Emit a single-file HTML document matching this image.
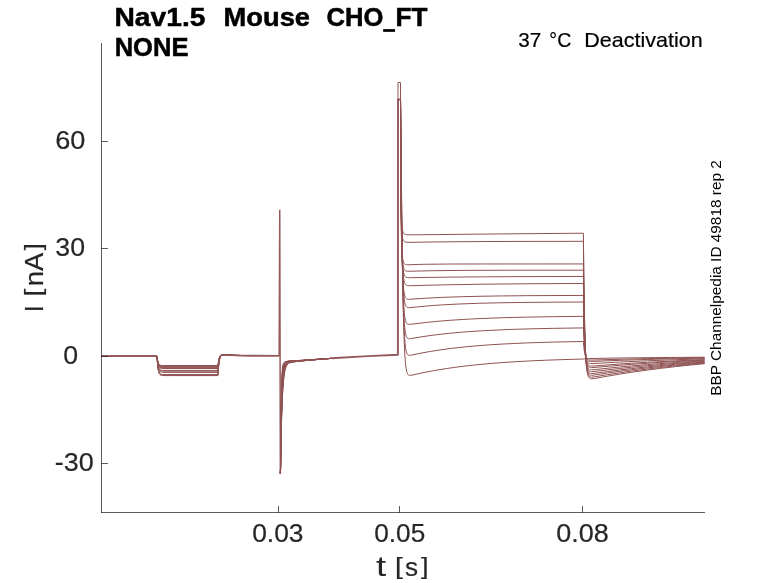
<!DOCTYPE html>
<html><head><meta charset="utf-8">
<style>
html,body{margin:0;padding:0;background:#fff;}
svg{display:block;will-change:transform;}
text{font-family:"Liberation Sans",sans-serif;}
</style></head>
<body>
<svg width="778" height="583" viewBox="0 0 778 583">
<rect width="778" height="583" fill="#fff"/>
<g fill="none" stroke="#955a5a" stroke-linejoin="round">
<path stroke-width="1.95" d="M101 356L157 356M232 354.97L240.5 355.43L249.5 355.69L260 355.83L279.15 355.89M332 358.26L340 357.7L368 356.11L397.9 354.7L398 99.5L400.5 99.5"/>
<path stroke-width="1.5" stroke-linejoin="miter" stroke-miterlimit="30" d="M279.15 355.89L279.75 209.8L280.35 473.2"/>
<g stroke-width="1.0" stroke="#8f5252" stroke-linejoin="miter" stroke-miterlimit="2">
<path d="M157 356L157.25 358.1L157.75 361.01L158 362.01L158.5 363.38L159 364.21L159.5 364.72L160.25 365.13L161 365.33L162.5 365.46L165 365.5L218 365.5L218.5 361.49L219 359L219.25 358.13L219.75 356.89L220.25 356.11L220.75 355.6L221.25 355.27L222 354.97L223 354.77L224 354.69L227 354.69L232 354.97M280.35 473.5L280.55 465.4L280.95 418.58L281.15 403.88L281.55 384.98L281.95 374.64L282.35 368.98L282.75 365.86L282.95 364.87L283.35 363.58L283.55 363.16L283.95 362.6L284.35 362.25L284.75 362.01L285.95 361.6L288.95 360.91L300.15 360.39L332 358.26M398 99.5L398 82.5L400.5 82.5L400.7 171.51L400.9 194.22L401.1 206.44L401.5 219.14L401.7 222.73L402.1 227.28L402.5 229.91L402.9 231.53L403.5 232.93L403.9 233.49L404.3 233.88L404.7 234.15L405.3 234.41L406.5 234.68L408.3 234.8L411.3 234.83L498.7 233.93L583.4 233.22L583.8 272.2L584.2 300.84L584.8 330.19L585.4 348.64L586 360.23L586.4 365.44L586.8 369.25L587.2 372.02L587.8 374.84L588.4 376.56L588.8 377.32L589.2 377.85L589.8 378.37L590.6 378.7L591.6 378.82L593 378.73L595.2 378.38L607.4 376.18L619.4 374.17L631.4 372.31L647.4 370.05L659.4 368.51L675.4 366.64L691.4 364.95L704.6 363.69"/>
<path d="M157 356L157.25 358.23L157.75 361.33L158 362.38L158.5 363.85L159 364.73L159.5 365.27L160.25 365.71L161 365.92L162.5 366.06L165 366.1L218 366.1L218.5 361.85L219 359.22L219.25 358.3L219.75 357L220.25 356.17L220.75 355.64L221.25 355.29L222 354.98L223 354.78L224 354.69L227 354.69L232 354.97M280.35 473.5L280.55 466.31L280.75 441.92L281.15 408.98L281.55 389.69L281.95 378.38L282.35 371.74L282.55 369.53L282.95 366.53L283.35 364.74L283.75 363.67L284.35 362.77L284.75 362.41L285.15 362.16L286.35 361.71L288.95 361.07L299.95 360.48L332 358.27M400.5 99.5L400.7 174.57L400.9 198.14L401.1 211.39L401.3 219.81L401.7 229.51L401.9 232.42L402.3 236.21L402.7 238.43L403.1 239.79L403.5 240.65L404.1 241.4L404.7 241.82L405.7 242.14L406.9 242.28L408.9 242.33L438.7 241.9L474.7 241.6L518.7 241.42L583.4 241.32L583.8 277.68L584.2 304.39L584.8 331.76L585.4 348.97L586 359.78L586.4 364.64L586.8 368.19L587.2 370.78L587.8 373.4L588.4 375.02L588.8 375.72L589.2 376.22L589.8 376.7L590.6 377.02L591.6 377.13L593 377.04L595.2 376.72L607.4 374.69L619.4 372.83L631.4 371.11L647.4 369.02L659.4 367.6L675.4 365.87L691.4 364.32L704.6 363.16"/>
<path d="M157 356L157.25 358.37L157.75 361.65L158 362.76L158.5 364.31L159 365.25L159.5 365.82L160.25 366.29L161 366.5L162.5 366.66L165 366.7L218 366.7L218.5 362.22L219 359.44L219.25 358.48L219.75 357.1L220.25 356.23L220.75 355.68L221.25 355.32L222 354.99L222.75 354.82L223.75 354.7L226.75 354.69L232 354.97M280.35 473.5L280.55 467.04L280.75 444.76L281.15 413.46L281.35 402.61L281.75 387.37L282.15 377.93L282.55 372.06L282.75 370.02L283.15 367.13L283.55 365.32L283.95 364.18L284.55 363.14L284.95 362.72L285.55 362.3L286.75 361.81L288.95 361.23L299.95 360.55L332 358.28M400.5 99.5L400.7 173.19L400.9 202.17L401.1 219.7L401.3 231.35L401.7 245.38L401.9 249.73L402.3 255.49L402.7 258.92L403.1 261.03L403.3 261.77L403.7 262.83L404.1 263.53L404.5 263.98L405.1 264.39L405.7 264.61L406.7 264.76L407.9 264.8L418.3 264.45L426.5 264.26L450.7 264.03L486.7 263.96L583.4 263.95L583.8 293.79L584.2 315.7L584.8 338.16L585.4 352.27L586 361.13L586.4 365.11L586.8 368.02L587.2 370.14L587.8 372.28L588.4 373.6L588.8 374.17L589.2 374.57L589.8 374.95L590.6 375.2L591.6 375.27L593 375.18L607.4 373.03L619.4 371.34L631.4 369.78L647.4 367.89L659.4 366.59L675.4 365.02L691.4 363.61L704.6 362.56"/>
<path d="M157 356L157.25 358.5L157.75 361.96L158 363.14L158.5 364.78L159 365.77L159.5 366.37L160.25 366.86L161 367.09L162.5 367.25L165 367.3L218 367.3L218.5 362.58L219 359.66L219.25 358.65L219.75 357.21L220.25 356.3L220.75 355.72L221.25 355.34L222 355L222.75 354.82L223.75 354.71L226.75 354.69L232 354.97M280.35 473.5L280.55 467.64L280.75 447.15L281.15 417.41L281.55 398.16L281.95 385.69L282.35 377.6L282.55 374.69L282.95 370.45L283.15 368.92L283.55 366.68L283.95 365.21L284.35 364.21L284.95 363.26L285.35 362.85L285.95 362.43L287.15 361.91L289.15 361.36L332 358.29M400.5 99.5L400.7 162.34L400.9 192.7L401.1 212.55L401.5 236.58L401.7 244.13L402.1 254.25L402.3 257.67L402.7 262.47L403.1 265.49L403.5 267.44L403.7 268.14L404.1 269.17L404.5 269.86L404.9 270.32L405.5 270.75L406.3 271.04L407.3 271.19L408.9 271.24L434.7 270.68L466.7 270.36L510.7 270.22L583.4 270.17L583.8 297.88L584.2 318.24L584.8 339.1L585.4 352.21L586 360.45L586.4 364.14L586.8 366.85L587.2 368.82L587.8 370.81L588.4 372.03L588.8 372.56L589.2 372.94L589.8 373.3L590.6 373.53L591.6 373.6L593 373.52L607.4 371.56L619.4 370.02L631.4 368.59L647.4 366.87L659.4 365.69L675.4 364.27L691.4 362.98L704.6 362.03"/>
<path d="M157 356L157.25 358.63L157.75 362.28L158 363.52L158.5 365.24L159 366.29L159.5 366.92L160.25 367.44L161 367.68L162.5 367.85L165 367.9L218 367.9L218.5 362.95L219 359.88L219.25 358.82L219.75 357.31L220.25 356.36L220.75 355.75L221.25 355.36L222 355.01L222.75 354.83L223.75 354.71L226.75 354.69L232 354.97M280.35 473.5L280.55 468.14L280.75 449.18L281.15 420.9L281.55 401.91L281.95 389.14L282.35 380.55L282.55 377.37L282.95 372.61L283.55 368.19L283.95 366.38L284.55 364.64L285.15 363.61L285.55 363.15L286.15 362.67L287.35 362.07L289.15 361.53L309.75 359.92L332 358.3M400.5 99.5L400.7 151.99L401.1 203.87L401.5 231.77L401.9 248.29L402.1 253.99L402.5 262.11L402.7 265.01L403.1 269.22L403.5 272L404.1 274.52L404.7 275.92L405.1 276.5L405.5 276.89L406.3 277.34L407.1 277.56L408.3 277.68L409.9 277.71L446.7 277.16L482.7 276.83L526.7 276.6L583.4 276.46L583.8 301.97L584.2 320.71L584.8 339.91L585.4 351.98L586 359.56L586.4 362.97L586.8 365.46L587.2 367.27L587.8 369.11L588.4 370.24L588.8 370.73L589.2 371.08L589.8 371.41L590.6 371.63L591.6 371.7L593 371.63L607.4 369.89L619.4 368.51L631.4 367.25L647.4 365.72L659.4 364.67L675.4 363.41L691.4 362.27L704.6 361.42"/>
<path d="M157 356L157.25 358.76L157.75 362.6L158 363.9L158.5 365.71L159 366.81L159.5 367.47L160.25 368.02L161 368.27L162.5 368.45L165 368.5L218 368.5L218.5 363.31L219 360.1L219.25 358.99L219.75 357.42L220.25 356.42L220.75 355.79L221.25 355.39L222 355.03L222.75 354.83L223.75 354.71L226.75 354.69L232 354.97M280.35 473.5L280.55 468.56L280.95 436.24L281.35 413.84L281.95 392.43L282.55 380.04L283.15 372.85L283.75 368.65L284.15 366.85L284.75 365.06L285.15 364.27L285.55 363.69L286.35 362.91L286.95 362.53L287.55 362.24L289.15 361.7L293.35 361.28L308.35 360.07L332 358.3M400.5 99.5L400.7 143.04L401.1 195.16L401.5 226.51L401.7 237.55L402.1 253.56L402.3 259.36L402.7 267.91L403.1 273.64L403.5 277.49L403.9 280.11L404.5 282.56L405.1 283.96L405.5 284.53L405.9 284.93L406.5 285.31L407.3 285.56L408.3 285.69L409.9 285.73L430.1 285.18L446.7 284.8L482.7 284.2L526.7 283.76L583.4 283.46L583.8 306.59L584.2 323.57L584.8 340.98L585.4 351.93L586 358.8L586.4 361.89L586.8 364.14L587.2 365.79L587.8 367.46L588.4 368.48L588.8 368.93L589.2 369.25L589.8 369.55L590.6 369.75L591.6 369.82L593 369.76L619.4 367.03L631.4 365.92L647.4 364.58L659.4 363.67L675.4 362.56L691.4 361.57L704.6 360.83"/>
<path d="M157 356L157.25 359.19L157.75 363.6L158 365.1L158.5 367.19L159 368.45L159.5 369.22L159.75 369.48L160.25 369.84L161 370.14L162.5 370.34L165 370.4L218 370.4L218.5 364.46L219 360.8L219.25 359.54L219.75 357.75L220.25 356.62L220.75 355.91L221.25 355.46L222 355.06L222.75 354.85L223.75 354.72L225 354.66L226.75 354.69L232 354.97M280.35 473.5L280.55 468.92L280.95 438.54L281.35 416.91L281.75 401.5L282.15 390.52L282.75 379.65L283.35 373.07L283.75 370.2L284.15 368.11L284.55 366.59L284.95 365.47L285.35 364.64L285.75 364.01L286.55 363.16L287.15 362.73L287.75 362.41L288.95 361.92L289.35 361.85L293.75 361.36L307.55 360.18L332 358.31M400.5 99.5L400.9 165.01L401.3 207.57L401.7 236.32L402.3 263.3L402.9 278.69L403.3 285.11L403.7 289.55L404.1 292.63L404.7 295.56L405.1 296.79L405.5 297.64L405.9 298.22L406.3 298.62L406.9 298.99L407.5 299.18L408.3 299.29L409.5 299.31L426.7 298.17L442.7 297.37L462.7 296.68L482.7 296.22L502.7 295.92L526.7 295.68L583.4 295.43L583.8 314.76L584.2 328.97L584.8 343.53L585.4 352.68L586 358.42L586.4 361.01L586.8 362.89L587.2 364.27L587.8 365.67L588.4 366.52L588.8 366.9L589.2 367.16L589.8 367.41L590.6 367.58L591.6 367.64L593 367.59L619.4 365.3L631.4 364.37L647.4 363.25L659.4 362.49L675.4 361.57L704.6 360.13"/>
<path d="M157 356L157.25 359.36L157.75 364.02L158 365.61L158.5 367.81L159 369.14L159.5 369.95L159.75 370.23L160.25 370.61L161 370.92L162.5 371.14L165 371.19L218 371.2L218.5 364.95L219 361.1L219.25 359.77L219.75 357.88L220.25 356.71L220.75 355.96L221.25 355.49L222 355.08L222.75 354.86L223.75 354.72L225 354.66L226.75 354.69L232 354.97M280.35 473.5L280.55 469.24L280.95 440.58L281.35 419.7L281.75 404.48L282.35 389L282.95 379.34L283.55 373.28L283.95 370.55L284.35 368.51L284.75 366.99L285.35 365.39L285.75 364.64L286.15 364.06L286.55 363.6L287.15 363.08L287.95 362.59L288.95 362.13L290.15 361.9L294.55 361.4L307.95 360.19L332 358.32M400.5 99.5L400.9 155.72L401.3 198.4L401.9 241.79L402.5 268.36L402.9 279.96L403.3 288.23L403.7 294.1L404.1 298.26L404.5 301.19L405.1 304.04L405.5 305.25L405.9 306.09L406.3 306.66L406.7 307.05L407.3 307.41L407.9 307.59L408.7 307.67L409.7 307.66L426.5 306.03L434.7 305.38L442.7 304.85L458.7 304.02L478.7 303.29L498.7 302.81L522.7 302.44L550.7 302.19L583.4 302.03L583.8 319.17L584.2 331.77L584.8 344.67L585.4 352.79L586 357.88L586.4 360.17L586.8 361.85L587.2 363.07L587.8 364.31L588.4 365.07L589.2 365.64L589.8 365.86L590.6 366.01L591.6 366.06L593 366.02L619.4 364.06L631.4 363.26L647.4 362.3L675.4 360.86L704.6 359.63"/>
<path d="M157 356L157.25 359.63L157.75 364.65L158 366.37L158.5 368.74L159 370.18L159.5 371.05L159.75 371.35L160.25 371.76L161 372.1L161.75 372.26L162.5 372.33L165 372.39L218 372.4L218.5 365.68L219 361.54L219.25 360.11L219.75 358.09L220.25 356.83L220.75 356.04L221.25 355.54L222 355.1L222.75 354.87L223.75 354.72L225 354.67L226.75 354.69L232 354.97M280.35 473.5L280.55 469.51L280.95 442.41L281.35 422.25L281.75 407.26L282.35 391.63L282.95 381.58L283.55 375.09L283.95 372.09L284.35 369.81L284.95 367.38L285.55 365.75L285.95 364.97L286.35 364.36L286.95 363.67L287.55 363.16L288.15 362.76L288.95 362.36L290.75 361.98L295.15 361.44L307.95 360.23L332 358.33M400.5 99.5L401.1 171.72L401.5 210.29L402.1 252.28L402.7 279.72L403.1 292.23L403.5 301.4L403.9 308.08L404.3 312.92L404.9 317.74L405.5 320.64L405.9 321.88L406.3 322.75L406.7 323.35L407.1 323.76L407.7 324.13L408.3 324.31L409.1 324.39L410.1 324.35L426.9 322.36L434.7 321.58L442.7 320.87L450.7 320.25L462.7 319.47L470.7 319.02L482.7 318.46L502.7 317.73L526.7 317.12L554.7 316.66L583.4 316.36L583.8 329.01L584.2 338.29L584.8 347.81L585.4 353.79L586 357.55L586.4 359.24L586.8 360.47L587.2 361.37L587.8 362.29L588.4 362.85L589.2 363.27L589.8 363.43L590.6 363.54L593 363.55L619.4 362.09L647.4 360.79L675.4 359.73L704.6 358.84"/>
<path d="M157 356L157.25 360.11L157.75 365.81L158 367.76L158.5 370.45L159 372.08L159.5 373.07L159.75 373.41L160.25 373.88L161 374.26L161.75 374.44L162.5 374.52L165 374.59L218 374.6L218.5 367.01L219 362.35L219.25 360.74L219.75 358.48L220.25 357.07L220.75 356.18L221.25 355.62L221.75 355.27L222.5 354.95L223.5 354.76L224.75 354.67L226.5 354.68L232 354.97M280.35 473.5L280.55 469.75L280.95 444.05L281.35 424.59L281.75 409.85L282.35 394.15L282.95 383.78L283.35 378.9L283.75 375.18L284.15 372.33L284.55 370.13L285.15 367.74L285.75 366.1L286.15 365.29L286.75 364.38L287.35 363.72L287.95 363.22L288.55 362.82L289.15 362.53L291.15 362.07L295.75 361.48L307.95 360.28L332 358.34M400.5 99.5L401.3 184.14L401.9 235.09L402.5 271.37L403.1 296.01L403.5 307.58L403.9 316.23L404.3 322.64L404.7 327.35L405.3 332.11L405.9 335.01L406.3 336.27L406.7 337.14L407.1 337.75L407.5 338.15L408.1 338.51L408.7 338.67L409.5 338.72L410.3 338.67L420.5 336.99L426.9 336.02L434.7 334.96L442.7 334.02L450.7 333.18L462.7 332.12L470.7 331.52L482.7 330.76L502.7 329.77L514.7 329.32L526.7 328.95L554.7 328.32L583.4 327.91L583.8 336.88L584.2 343.47L584.8 350.23L585.4 354.47L586 357.14L586.4 358.34L586.8 359.21L587.2 359.85L587.8 360.5L588.4 360.9L589.2 361.2L590.6 361.39L593 361.4L619.4 360.37L647.4 359.48L675.4 358.76L704.6 358.15"/>
<path d="M157 356L157.25 360.22L157.75 366.08L158 368.07L158.5 370.84L159 372.52L159.5 373.53L159.75 373.88L160.25 374.36L161 374.75L161.75 374.93L162.5 375.02L165 375.09L218 375.1L218.5 367.31L219 362.53L219.25 360.88L219.75 358.56L220.25 357.12L220.75 356.21L221.25 355.64L221.75 355.28L222.5 354.96L223.5 354.76L224.75 354.67L226.5 354.68L232 354.97M280.35 473.5L280.55 469.97L280.95 445.53L281.55 419.03L281.95 406.34L282.55 392.56L283.15 383.23L283.55 378.74L283.95 375.27L284.35 372.55L284.75 370.43L285.35 368.08L285.95 366.43L286.35 365.6L286.95 364.66L287.55 363.95L288.35 363.27L288.95 362.87L289.55 362.64L291.75 362.13L296.15 361.54L308.15 360.3L314.55 359.74L332 358.35M400.5 99.5L401.5 195.44L402.1 244.47L402.7 281.07L403.3 306.97L403.7 319.52L404.1 329.1L404.5 336.34L405.1 343.91L405.7 348.68L406.3 351.62L406.7 352.89L407.1 353.79L407.5 354.4L407.9 354.81L408.5 355.17L409.1 355.32L409.9 355.34L410.7 355.26L421.9 352.98L430.5 351.42L438.7 350.12L450.7 348.48L458.7 347.55L466.7 346.72L474.7 345.99L482.7 345.35L490.7 344.78L502.7 344.05L514.7 343.44L526.7 342.93L538.7 342.51L554.7 342.06L583.4 341.49L583.8 346.47L584.2 350.13L584.8 353.88L585.4 356.23L586 357.71L586.4 358.37L586.8 358.86L587.2 359.21L587.8 359.56L588.4 359.78L589.2 359.94L590.6 360.04L592.8 360.03L623.4 359.18L655.4 358.48L704.6 357.71"/>
<path d="M157 356L157.25 360.34L157.75 366.34L158 368.39L158.5 371.23L159 372.95L159.5 373.99L159.75 374.35L160.25 374.84L161 375.24L161.75 375.43L162.5 375.52L165 375.59L218 375.6L218.5 367.62L219 362.72L219.25 361.03L219.75 358.65L220.25 357.17L220.75 356.25L221.25 355.66L221.75 355.29L222.5 354.96L223.5 354.76L224.75 354.67L226.5 354.68L232 354.97M280.35 473.5L280.55 470.16L280.95 446.87L281.55 421.18L281.95 408.66L282.55 394.82L283.15 385.25L283.55 380.56L283.95 376.89L284.35 373.98L284.95 370.71L285.55 368.4L286.15 366.75L286.55 365.9L287.15 364.92L287.75 364.19L288.55 363.46L289.15 363.06L289.95 362.75L292.15 362.21L296.55 361.59L308.15 360.35L314.55 359.76L332 358.36M400.5 99.5L400.7 112.7L401.7 206.64L402.3 254.99L402.9 292.51L403.3 311.87L403.7 327.32L404.1 339.45L404.5 348.84L404.9 356.02L405.5 363.62L406.1 368.48L406.7 371.52L407.1 372.84L407.5 373.78L407.9 374.42L408.3 374.85L408.9 375.23L409.5 375.39L410.3 375.41L411.1 375.32L424.1 372.5L434.7 370.48L446.7 368.5L454.7 367.36L462.7 366.32L474.7 364.97L486.7 363.82L498.7 362.84L514.7 361.75L530.7 360.88L546.7 360.17L562.7 359.61L583.4 359.03L584.2 358.83L585.2 358.69L588.8 358.53L611.4 358.13L639.4 357.76L671.4 357.44L704.6 357.2"/>
</g>
</g>
<g fill="none" stroke="#262626" stroke-width="1" stroke-opacity="0.75" shape-rendering="crispEdges">
<path d="M101.5 43V513"/>
<path d="M101 512.5H705"/>
<path d="M101 141.5H108"/><path d="M101 248.5H108"/><path d="M101 356.5H108"/><path d="M101 463.5H108"/>
<path d="M278.5 506V513"/><path d="M399.5 506V513"/><path d="M582.5 506V513"/>
</g>
<text x="114.48" y="26.00" font-size="25.30" font-weight="bold" stroke="#000" stroke-width="0.5" textLength="90.93" lengthAdjust="spacingAndGlyphs" fill="#000" xml:space="preserve">Nav1.5</text>
<text x="223.58" y="26.00" font-size="25.30" font-weight="bold" stroke="#000" stroke-width="0.5" textLength="86.48" lengthAdjust="spacingAndGlyphs" fill="#000" xml:space="preserve">Mouse</text>
<text x="326.57" y="26.00" font-size="25.30" font-weight="bold" stroke="#000" stroke-width="0.5" textLength="56.81" lengthAdjust="spacingAndGlyphs" fill="#000" xml:space="preserve">CHO</text>
<text x="383.88" y="27.90" font-size="25.30" font-weight="bold" stroke="#000" stroke-width="1.8" textLength="10.24" lengthAdjust="spacingAndGlyphs" fill="#000" xml:space="preserve">_</text>
<text x="395.49" y="26.00" font-size="25.30" font-weight="bold" stroke="#000" stroke-width="0.5" textLength="31.83" lengthAdjust="spacingAndGlyphs" fill="#000" xml:space="preserve">FT</text>
<text x="114.67" y="56.00" font-size="25.30" font-weight="bold" stroke="#000" stroke-width="0.5" textLength="73.83" lengthAdjust="spacingAndGlyphs" fill="#000" xml:space="preserve">NONE</text>
<text x="518.26" y="47.00" font-size="20.30" stroke="#000" stroke-width="0.2" textLength="22.98" lengthAdjust="spacingAndGlyphs" fill="#000" xml:space="preserve">37</text>
<text x="549.32" y="47.00" font-size="20.30" stroke="#000" stroke-width="0.2" textLength="21.93" lengthAdjust="spacingAndGlyphs" fill="#000" xml:space="preserve">°C</text>
<text x="584.34" y="47.00" font-size="20.30" stroke="#000" stroke-width="0.2" textLength="118.42" lengthAdjust="spacingAndGlyphs" fill="#000" xml:space="preserve">Deactivation</text>
<text x="55.19" y="149.00" font-size="25.60" stroke="#262626" stroke-width="0.2" textLength="30.10" lengthAdjust="spacingAndGlyphs" fill="#262626" xml:space="preserve">60</text>
<text x="55.36" y="256.00" font-size="25.60" stroke="#262626" stroke-width="0.2" textLength="29.68" lengthAdjust="spacingAndGlyphs" fill="#262626" xml:space="preserve">30</text>
<text x="63.33" y="364.00" font-size="25.60" stroke="#262626" stroke-width="0.2" textLength="14.83" lengthAdjust="spacingAndGlyphs" fill="#262626" xml:space="preserve">0</text>
<text x="54.87" y="471.00" font-size="25.60" stroke="#262626" stroke-width="0.2" textLength="38.96" lengthAdjust="spacingAndGlyphs" fill="#262626" xml:space="preserve">-30</text>
<text x="252.16" y="542.00" font-size="25.60" stroke="#262626" stroke-width="0.2" textLength="51.34" lengthAdjust="spacingAndGlyphs" fill="#262626" xml:space="preserve">0.03</text>
<text x="374.23" y="542.00" font-size="25.60" stroke="#262626" stroke-width="0.2" textLength="51.05" lengthAdjust="spacingAndGlyphs" fill="#262626" xml:space="preserve">0.05</text>
<text x="556.17" y="542.00" font-size="25.60" stroke="#262626" stroke-width="0.2" textLength="52.51" lengthAdjust="spacingAndGlyphs" fill="#262626" xml:space="preserve">0.08</text>
<text x="375.99" y="576.00" font-size="27.80" textLength="10.18" lengthAdjust="spacingAndGlyphs" fill="#262626" xml:space="preserve">t</text>
<text x="395.05" y="574.00" font-size="24.50" stroke="#262626" stroke-width="0.2" textLength="7.81" lengthAdjust="spacingAndGlyphs" fill="#262626" xml:space="preserve">[</text>
<text x="404.92" y="576.00" font-size="25.60" stroke="#262626" stroke-width="0.2" textLength="13.03" lengthAdjust="spacingAndGlyphs" fill="#262626" xml:space="preserve">s</text>
<text x="421.11" y="574.00" font-size="24.50" stroke="#262626" stroke-width="0.2" textLength="7.56" lengthAdjust="spacingAndGlyphs" fill="#262626" xml:space="preserve">]</text>
<text transform="translate(43.10,312.24) rotate(-90)" font-size="25.60" stroke="#262626" stroke-width="0.2" textLength="7.10" lengthAdjust="spacingAndGlyphs" fill="#262626" xml:space="preserve">I</text>
<text transform="translate(40.70,296.54) rotate(-90)" font-size="24.30" stroke="#262626" stroke-width="0.2" textLength="7.84" lengthAdjust="spacingAndGlyphs" fill="#262626" xml:space="preserve">[</text>
<text transform="translate(43.08,286.16) rotate(-90)" font-size="25.60" stroke="#262626" stroke-width="0.2" textLength="33.39" lengthAdjust="spacingAndGlyphs" fill="#262626" xml:space="preserve">nA</text>
<text transform="translate(40.70,250.32) rotate(-90)" font-size="24.30" stroke="#262626" stroke-width="0.2" textLength="7.01" lengthAdjust="spacingAndGlyphs" fill="#262626" xml:space="preserve">]</text>
<text transform="translate(721.10,395.76) rotate(-90)" font-size="14.60" textLength="235.56" lengthAdjust="spacingAndGlyphs" fill="#000" xml:space="preserve">BBP Channelpedia ID 49818 rep 2</text>
</svg>
</body></html>
